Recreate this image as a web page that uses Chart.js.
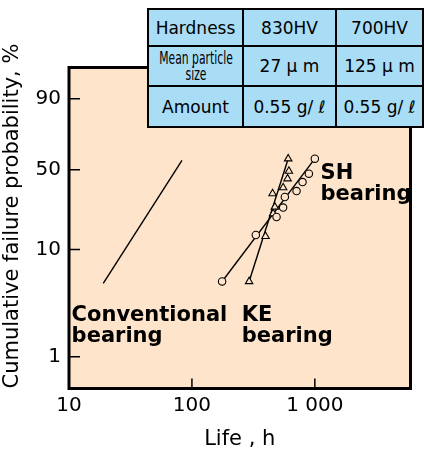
<!DOCTYPE html>
<html>
<head>
<meta charset="utf-8">
<script src="https://cdn.jsdelivr.net/npm/chart.js@4.4.0/dist/chart.umd.min.js"></script>
<style>
  body { margin: 0; background: #fff; }
  #wrap { position: relative; width: 424px; height: 452px; }
  #spec {
    position: absolute; left: 147px; top: 8px;
    width: 277px; table-layout: fixed; border-collapse: collapse;
    background: #a9dcf5; color: #000;
    font-family: "DejaVu Sans"; font-size: 17px;
  }
  #spec td { border: 2.5px solid #000; text-align: center; padding: 0; white-space: nowrap; overflow: visible; }
  .sq { width: 140px; margin-left: -23.5px; transform: scaleX(0.6); font-size: 18px; line-height: 16px; text-align: center; }
</style>
</head>
<body>
<div id="wrap">
  <canvas id="chart" width="424" height="452"></canvas>
  <table id="spec">
    <tr style="height:37px"><td style="width:93px">Hardness</td><td style="width:91px">830HV</td><td>700HV</td></tr>
    <tr style="height:40px"><td><div class="sq">Mean particle<br>size</div></td><td>27 μ m</td><td>125 μ m</td></tr>
    <tr style="height:41px"><td>Amount</td><td>0.55 g/ ℓ</td><td>0.55 g/ ℓ</td></tr>
  </table>
</div>
<script>
// life (h) and cumulative failure probability (%)
const shLife = [176, 331, 488, 552, 570, 710, 794, 894, 1000];
const shProb = [5.1, 13.8, 20.3, 24.7, 30.5, 34.2, 40.4, 46.8, 56.6];
const keLife = [292, 397, 458, 473, 453, 552, 600, 615, 607];
const keProb = [5.1, 13.4, 21.8, 25.0, 32.6, 36.5, 42.9, 48.9, 56.6];

// fitted lines (end points)
const convFitLife = [19, 83];
const convFitProb = [4.9, 55.6];
const shFitLife = [176, 1000];
const shFitProb = [5.1, 56.6];
const keFitLife = [292, 607];
const keFitProb = [5.1, 56.6];

const lifeTicks = [10, 100, 1000];
const probTicks = [1, 10, 50, 90];
// spacing of the printed probability grid between the labelled ticks
const paperPos = [0, 107.4, 187.4, 258.4];

const bg = '#fde4ca';

function weib(p) { return Math.log(-Math.log(1 - p / 100)); }
function paper(p) {
  const w = weib(p);
  let i = 0;
  while (i < probTicks.length - 2 && w > weib(probTicks[i + 1])) i++;
  const w0 = weib(probTicks[i]), w1 = weib(probTicks[i + 1]);
  return paperPos[i] + (w - w0) / (w1 - w0) * (paperPos[i + 1] - paperPos[i]);
}
const pts = (xs, ys) => xs.map((x, i) => ({ x: x, y: paper(ys[i]) }));

const notes = [
  { lines: ['Conventional', 'bearing'], life: 10.5, prob: 2.2 },
  { lines: ['KE', 'bearing'], life: 254, prob: 2.2 },
  { lines: ['SH', 'bearing'], life: 1113, prob: 42.9 }
];

const paperPlugin = {
  id: 'paper',
  beforeDraw(chart) {
    const { ctx, chartArea: a } = chart;
    ctx.save();
    ctx.fillStyle = bg;
    ctx.fillRect(a.left, a.top, a.width, a.height);
    ctx.restore();
  },
  afterDraw(chart) {
    const { ctx, chartArea: a } = chart;
    const xs = chart.scales.x, ys = chart.scales.y;
    ctx.save();
    ctx.strokeStyle = '#000';
    ctx.lineWidth = 1.5;
    ctx.beginPath();
    lifeTicks.forEach(v => {
      const px = xs.getPixelForValue(v);
      ctx.moveTo(px, a.bottom); ctx.lineTo(px, a.bottom - 10);
    });
    probTicks.forEach(p => {
      const py = ys.getPixelForValue(paper(p));
      ctx.moveTo(a.left, py); ctx.lineTo(a.left + 11, py);
    });
    ctx.stroke();
    ctx.lineWidth = 3;
    ctx.strokeRect(a.left, a.top, a.width, a.height);

    ctx.fillStyle = '#000';
    ctx.font = 'bold 21px "DejaVu Sans"';
    ctx.textBaseline = 'alphabetic';
    notes.forEach(n => {
      const x = xs.getPixelForValue(n.life), y = ys.getPixelForValue(paper(n.prob));
      n.lines.forEach((t, i) => ctx.fillText(t, x, y + i * 21));
    });
    ctx.restore();
  }
};

Chart.defaults.font.family = '"DejaVu Sans"';
Chart.defaults.color = '#000';

new Chart(document.getElementById('chart'), {
  type: 'line',
  data: {
    datasets: [
      { data: pts(shLife, shProb), showLine: false, pointStyle: 'circle', pointRadius: 3.7,
        pointBackgroundColor: bg, pointBorderColor: '#000', pointBorderWidth: 1.1 },
      { data: pts(keLife, keProb), showLine: false, pointStyle: 'triangle', pointRadius: 4.3,
        pointBackgroundColor: bg, pointBorderColor: '#000', pointBorderWidth: 1.1 },
      { data: pts(convFitLife, convFitProb), borderColor: '#000', borderWidth: 1.4, pointRadius: 0 },
      { data: pts(shFitLife, shFitProb), borderColor: '#000', borderWidth: 1.4, pointRadius: 0 },
      { data: pts(keFitLife, keFitProb), borderColor: '#000', borderWidth: 1.4, pointRadius: 0 }
    ]
  },
  options: {
    responsive: false,
    animation: false,
    layout: { padding: { left: 0, right: 13.5, top: 67.5, bottom: 0 } },
    plugins: { legend: { display: false }, tooltip: { enabled: false } },
    scales: {
      x: {
        type: 'logarithmic', min: 10, max: 6000,
        grid: { display: false, drawTicks: false },
        border: { display: false },
        afterBuildTicks: s => { s.ticks = lifeTicks.map(v => ({ value: v })); },
        afterFit: s => { s.height = 63.5; },
        ticks: {
          font: { size: 20 }, padding: 5, maxRotation: 0,
          callback: v => String(v).replace(/\B(?=(\d{3})+(?!\d))/g, ' ')
        },
        title: { display: true, text: 'Life , h', font: { size: 21 }, padding: 0 }
      },
      y: {
        type: 'linear', min: paper(0.5), max: paper(98),
        grid: { display: false, drawTicks: false },
        border: { display: false },
        afterBuildTicks: s => { s.ticks = probTicks.map(p => ({ value: paper(p) })); },
        afterFit: s => { s.width = 69; },
        ticks: { font: { size: 20 }, padding: 8, callback: (v, i) => probTicks[i] },
        title: { display: true, text: 'Cumulative failure probability, %', align: 'start',
                 font: { size: 21 }, padding: 0 }
      }
    }
  },
  plugins: [paperPlugin]
});
</script>
</body>
</html>
